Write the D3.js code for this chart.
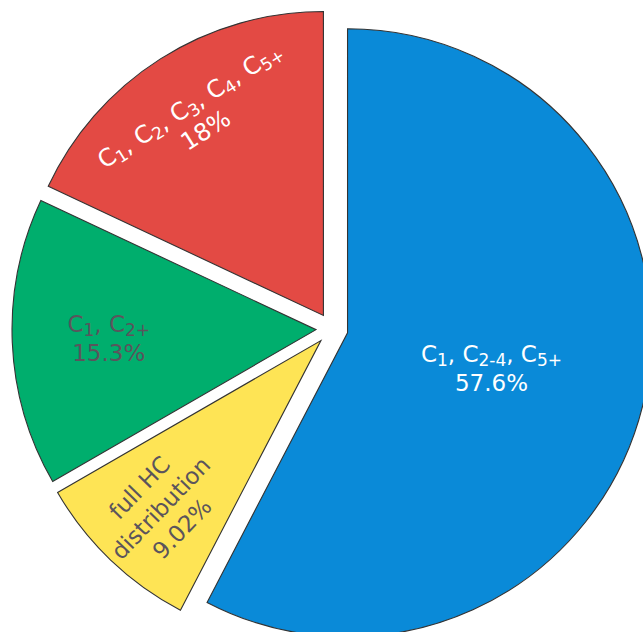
<!DOCTYPE html>
<html>
<head>
<meta charset="utf-8">
<script src="https://cdn.jsdelivr.net/npm/d3@7"></script>
<style>
  html, body { margin: 0; padding: 0; background: #ffffff; }
  svg { display: block; }
</style>
</head>
<body>
<svg id="chart" width="643" height="632"></svg>
<script>
// Slice data (clockwise from 12 o'clock). "_x" marks a subscript, "|" a line break.
const categories = ["C_1, C_2-4, C_5+", "full HC|distribution", "C_1, C_2+", "C_1, C_2, C_3, C_4, C_5+"];
const values = [57.6, 9.02, 15.3, 18];

// Styling
const colors = ["#0a8ad8", "#fee455", "#00ae6d", "#e34a44"];
const labelColors = ["#ffffff", "#5b545c", "#5b545c", "#ffffff"];
const labelRadius = [0.54, 0.815, 0.735, 0.825];        // fraction of the pie radius
const labelOrient = ["flat", "radial", "flat", "tangent"];
const labelSize = [23, 23, 23, 24];

const width = 643, height = 632;
const cx = 332, cy = 329, radius = 304, explode = 16;
const lineHeight = 29.5;

const svg = d3.select("#chart");
const root = svg.append("g").attr("transform", `translate(${cx},${cy})`);

const pie = d3.pie().sort(null).value(d => d.value).startAngle(0).endAngle(2 * Math.PI);
const arc = d3.arc().innerRadius(0).outerRadius(radius);

const data = categories.map((c, i) => ({ label: c, value: values[i], i }));
const arcs = pie(data);

const mid = a => (a.startAngle + a.endAngle) / 2;

// Exploded wedges
root.selectAll("path.slice")
  .data(arcs)
  .join("path")
  .attr("class", "slice")
  .attr("d", arc)
  .attr("transform", a => {
    const m = mid(a);
    return `translate(${explode * Math.sin(m)},${-explode * Math.cos(m)})`;
  })
  .attr("fill", a => colors[a.data.i])
  .attr("stroke", "#333333")
  .attr("stroke-width", 1.1);

// Labels
const labels = root.selectAll("g.label")
  .data(arcs)
  .join("g")
  .attr("class", "label")
  .attr("transform", a => {
    const m = mid(a);
    const r = radius * labelRadius[a.data.i];
    const deg = m * 180 / Math.PI;
    let rot = 0;
    if (labelOrient[a.data.i] === "tangent") rot = ((deg + 90) % 180) - 90;
    else if (labelOrient[a.data.i] === "radial") rot = (deg % 180) - 90;
    return `translate(${r * Math.sin(m)},${-r * Math.cos(m)}) rotate(${rot})`;
  });

labels.each(function(a) {
  const g = d3.select(this);
  const fs = labelSize[a.data.i];
  const sub = Math.round(fs * 0.72);
  const lines = a.data.label.split("|").concat([`${a.data.value}%`]);
  const n = lines.length;
  lines.forEach((line, k) => {
    const t = g.append("text")
      .attr("x", 0)
      .attr("y", (k - (n - 1) / 2) * lineHeight + fs * 0.36)
      .attr("text-anchor", "middle")
      .attr("font-family", "'DejaVu Sans', Verdana, sans-serif")
      .attr("font-size", fs)
      .attr("fill", labelColors[a.data.i]);
    const parts = line.split(/(_[^,\s]+)/).filter(s => s.length);
    let shift = 0;
    parts.forEach(p => {
      if (p.startsWith("_")) {
        t.append("tspan").attr("font-size", sub).attr("dy", 4 - shift).text(p.slice(1));
        shift = 4;
      } else {
        t.append("tspan").attr("dy", -shift).text(p);
        shift = 0;
      }
    });
  });
});
</script>
</body>
</html>
